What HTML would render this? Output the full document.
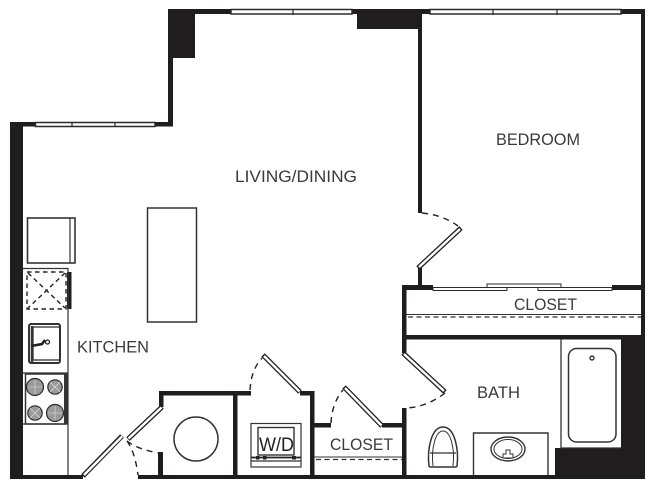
<!DOCTYPE html>
<html><head><meta charset="utf-8"><style>
html,body{margin:0;padding:0;background:#fff;width:653px;height:488px;overflow:hidden}
svg{display:block}
text{font-family:"Liberation Sans",sans-serif;fill:#3a3a3a;font-size:16.5px}
</style></head><body>
<svg width="653" height="488" viewBox="0 0 653 488" xmlns="http://www.w3.org/2000/svg">
<rect width="653" height="488" fill="#fff"/>
<g fill="#1f1d1e">
<!-- outer walls -->
<rect x="10" y="122" width="13" height="357"/>
<rect x="10" y="122" width="26" height="4.5"/>
<rect x="155" y="122" width="18" height="4.5"/>
<rect x="168" y="9" width="5" height="117"/>
<rect x="168" y="9" width="27" height="49"/>
<rect x="168" y="9" width="63" height="5"/>
<rect x="352" y="9" width="78" height="5"/>
<rect x="357" y="9" width="65" height="20"/>
<rect x="418" y="9" width="4" height="204"/>
<rect x="621" y="9" width="24" height="5"/>
<rect x="641" y="9" width="4" height="470"/>
<!-- bottom -->
<rect x="10" y="475" width="73" height="4"/>
<rect x="138" y="475" width="507" height="4"/>
<!-- closet walls -->
<rect x="418" y="268" width="4" height="20"/>
<rect x="402" y="285" width="31" height="5"/>
<rect x="612" y="285" width="33" height="5"/>
<rect x="402" y="285" width="4.5" height="68"/>
<rect x="402" y="335" width="243" height="4.5"/>
<rect x="402" y="408" width="4.5" height="68"/>
<!-- bath black -->
<rect x="621" y="339" width="24" height="140"/>
<rect x="555" y="448" width="90" height="31"/>
<!-- laundry walls -->
<rect x="159" y="391" width="92" height="4.5"/>
<rect x="159" y="391" width="4.5" height="16"/>
<rect x="158" y="452" width="5" height="24"/>
<rect x="233" y="391" width="4.5" height="85"/>
<rect x="300" y="391" width="14" height="4.5"/>
<rect x="310" y="391" width="4.5" height="85"/>
<rect x="314" y="423" width="17" height="4.5"/>
<rect x="382" y="423" width="22" height="4.5"/>
<!-- dishwasher handle -->
<rect x="67" y="272" width="4.5" height="37"/>
</g>

<!-- windows -->
<g fill="#fff" stroke="#2b2b2b" stroke-width="1.5">
<rect x="35.5" y="122.5" width="119.5" height="4"/>
<rect x="231" y="9.5" width="121" height="4.5"/>
<rect x="430" y="9.5" width="191" height="4.5"/>
</g>
<g stroke="#2b2b2b" stroke-width="1.2" fill="none">
<path d="M72 122V127M115 122V127M293 9V15M493 9V15M557 9V15"/>
</g>

<!-- bifold closet doors -->
<g fill="#fff" stroke="#2b2b2b" stroke-width="1">
<rect x="487" y="284" width="74" height="3.5"/>
<rect x="433" y="287.5" width="74" height="3"/>
<rect x="538" y="287.5" width="74" height="3"/>
</g>

<!-- closet shelves -->
<path d="M406 314.5H641" stroke="#333" stroke-width="1"/>
<path d="M408 317H641" stroke="#333" stroke-width="1.2" stroke-dasharray="5 3.5"/>
<path d="M314 457H402" stroke="#333" stroke-width="1"/>
<path d="M316 459.5H402" stroke="#333" stroke-width="1.2" stroke-dasharray="5 3.5"/>

<!-- doors -->
<g stroke="#222" stroke-width="5" fill="none"><path d="M83 476L122 436M128 439L162 407M263 355L300 392M344 387L382 426M418 268L461 228M403 353L445 392"/></g>
<g stroke="#fff" stroke-width="2.4" fill="none"><path d="M84 475L122 436.5M128.500 438.500L161.500 407.500M264 356L299.500 391.500M345 388L381.500 425.500M419 267L460 229M404 354L444 391"/></g>

<!-- door swings -->
<g fill="none" stroke="#222" stroke-width="1.4" stroke-dasharray="6 5">
<path d="M422 213Q443 215 458 226"/>
<path d="M445 393Q427 407 406 408"/>
<path d="M250 390Q251 370 262 358"/>
<path d="M331 423Q332 403 343 390"/>
<path d="M127 441Q137 449 158 453"/>
<path d="M127 441Q135 452 138 475"/>
</g>

<!-- kitchen -->
<g fill="none" stroke="#333" stroke-width="1.2">
<rect x="147.500" y="208" width="49" height="114" stroke-width="1.5"/>
<rect x="27.500" y="218" width="47.500" height="45" stroke-width="1.6"/>
<path d="M70 218V263"/>
<path d="M23 268.500H68V475"/>
<path d="M23 373H68M23 424H68"/>
<rect x="29" y="324" width="31" height="39" rx="2" stroke-width="2"/>
<rect x="33" y="327" width="27" height="33" stroke-width="1.300"/>
<path d="M32 326V362" stroke-width="2.400"/>
<rect x="25.500" y="374" width="40" height="50" stroke-width="1.500"/>
</g>
<rect x="64" y="373" width="3.500" height="51" fill="#333"/>
<g fill="none" stroke="#222" stroke-width="1.400" stroke-dasharray="4.500 3.500">
<rect x="27" y="272" width="39" height="37"/>
<path d="M28 273L65 308M65 273L28 308"/>
</g>
<path d="M31 346L42 344L45 340" stroke="#222" stroke-width="2.600" fill="none"/>
<circle cx="47.500" cy="342" r="2" fill="#fff" stroke="#222" stroke-width="1.300"/>
<g fill="#9a9a9a" stroke="#2b2b2b" stroke-width="1.200">
<circle cx="35" cy="387" r="8.500"/>
<circle cx="55" cy="387" r="7.200"/>
<circle cx="35" cy="413" r="7.200"/>
<circle cx="55" cy="413" r="8.500"/>
</g>
<g stroke="#e4e4e4" stroke-width=".6" fill="none">
<path d="M28 387H42M35 380V394M50 382L60 392M60 382L50 392M30 408L40 418M40 408L30 418M48 413H62M55 406V420"/>
</g>

<!-- washer dryer circle -->
<circle cx="196" cy="439" r="22" fill="#fff" stroke="#333" stroke-width="1.500"/>

<!-- W/D -->
<g fill="none" stroke="#333" stroke-width="1.200">
<rect x="251" y="423.500" width="50" height="43.500"/>
<rect x="258" y="427.500" width="36" height="27.500" stroke-width="1.400"/>
<path d="M251 461H301"/>
</g>
<path d="M251 457.500H301" stroke="#222" stroke-width="1.800"/>
<rect x="256" y="456" width="3.500" height="3.500" fill="#222"/>
<rect x="263" y="456" width="3.500" height="3.500" fill="#222"/>
<rect x="292" y="456" width="4" height="3.500" fill="#222"/>

<!-- bath fixtures -->
<g fill="none" stroke="#333" stroke-width="1.300">
<path d="M561 339V448H621"/>
<rect x="568.500" y="348.500" width="47.500" height="93.500" rx="8" stroke-width="1.500"/>
<circle cx="592" cy="358" r="2" stroke-width="1.400"/>
<path d="M473.500 475V433H548V475" stroke-width="1.400"/>
<ellipse cx="508" cy="449" rx="17" ry="12" stroke-width="1.400"/>
<ellipse cx="508" cy="449" rx="14" ry="9.500" stroke-width="1"/>
<path d="M503 458V454H506V450H510V454H513V458Z" fill="#fff" stroke-width="1"/>
<path d="M429 466C427 450 431 427 443 427C455 427 459 450 457 466C457 467 456 467 455 467H431C430 467 429 467 429 466Z" stroke-width="1.500"/>
<path d="M433 466C431 450 435 431 443 431C451 431 455 450 453 466" stroke-width="1"/>
<path d="M430 453H456" stroke-width="1.200"/>
</g>

<!-- labels -->
<text x="235" y="182" textLength="122" lengthAdjust="spacingAndGlyphs">LIVING/DINING</text>
<text x="496" y="145" textLength="84" lengthAdjust="spacingAndGlyphs">BEDROOM</text>
<text x="77" y="352.500" textLength="72" lengthAdjust="spacingAndGlyphs">KITCHEN</text>
<text x="477" y="398" textLength="43" lengthAdjust="spacingAndGlyphs">BATH</text>
<text x="514" y="310" textLength="63" lengthAdjust="spacingAndGlyphs">CLOSET</text>
<text x="330" y="450" textLength="63" lengthAdjust="spacingAndGlyphs">CLOSET</text>
<text x="259" y="451" textLength="35" lengthAdjust="spacingAndGlyphs" style="font-size:19px;fill:#222">W/D</text>
</svg>
</body></html>
